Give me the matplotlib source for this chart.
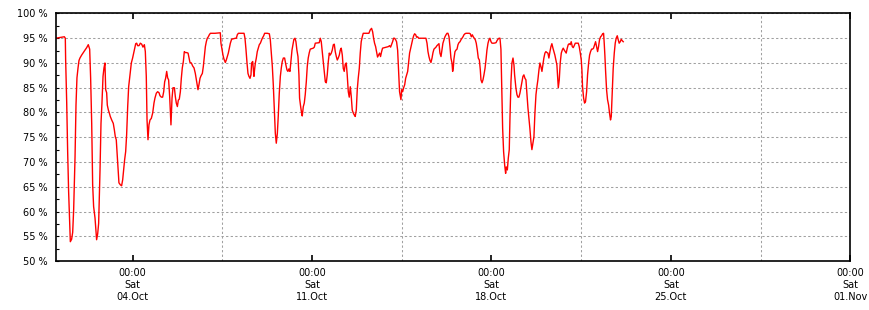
import matplotlib
matplotlib.use("Agg")
import matplotlib.pyplot as plt
import matplotlib.dates as mdates
from matplotlib.ticker import MultipleLocator, FuncFormatter, FixedLocator
import pandas as pd

# hours after 2025-10-01 00:00 and availability in percent
hours = [
    0, 8.2, 9.1, 9.4, 10.4, 11.3, 12.2, 13.2, 13.8, 15.0, 16.0, 16.9, 18.2, 19.1, 20.0,
    21.0, 21.9, 22.8, 24.4, 25.9, 27.5, 29.1, 30.6, 31.9, 32.8, 33.8, 34.7, 35.6, 36.9,
    37.8, 38.4, 39.4, 40.3, 41.6, 42.5, 43.4, 44.4, 45.3, 46.2, 46.9, 47.8, 48.4, 49.4,
    50.3, 51.2, 52.5, 54.0, 55.0, 55.9, 56.8, 58.1, 59.3, 60.6, 61.8, 62.8, 63.7, 64.6,
    65.6, 66.5, 67.5, 68.4, 69.6, 70.9, 72.1, 73.1, 74.0, 75.0, 75.9, 76.8, 78.1, 79.3,
    80.6, 81.8, 83.1, 84.0, 84.9, 85.6, 86.5, 87.4, 88.4, 89.6, 90.9, 92.1, 93.0, 94.3,
    95.5, 96.8, 97.7, 99.0, 100.2, 101.2, 102.1, 103.0, 104.0, 104.9, 105.8, 106.8,
    108.0, 109.0, 109.9, 111.2, 112.1, 113.0, 114.0, 114.9, 115.8, 116.8, 117.7, 118.6,
    119.6, 120.5, 121.5, 122.7, 124.0, 124.9, 125.8, 127.1, 128.3, 129.6, 130.8, 132.1,
    133.3, 134.2, 135.2, 136.1, 137.4, 138.3, 139.2, 140.2, 141.1, 142.0, 143.0, 143.9,
    144.9, 149.2, 153.3, 154.2, 154.8, 155.8, 156.7, 157.6, 158.9, 159.8, 160.8, 161.7,
    162.6, 163.6, 164.8, 168.3, 169.2, 170.1, 171.1, 176.4, 177.3, 178.2, 179.2, 180.1,
    181.0, 182.0, 182.9, 183.5, 184.5, 185.1, 185.7, 186.3, 187.0, 187.9, 188.8, 189.8,
    190.7, 191.7, 192.6, 193.5, 194.8, 195.7, 198.2, 200.1, 201.0, 202.0, 202.9, 203.8,
    204.8, 205.7, 206.6, 207.6, 208.5, 209.4, 210.4, 211.3, 212.2, 213.2, 214.4,
    215.6, 216.6, 217.5, 218.4, 219.4, 220.3, 221.3, 222.2, 223.1, 224.1, 225.0, 225.9,
    226.9, 227.8, 228.4, 229.4, 230.3, 230.9, 231.9, 232.8, 233.7, 234.7, 235.6, 236.5,
    237.5, 238.4, 241.2, 242.2, 243.1, 246.8, 247.8, 248.7, 249.6, 250.6, 251.5, 252.5,
    253.4, 254.3, 255.3, 256.2, 257.1, 258.1, 259.0, 260.0, 260.9, 261.8, 262.8, 263.7,
    264.6, 265.6, 266.5, 267.4, 268.4, 269.3, 270.2, 271.2, 272.1, 273.0, 274.0, 274.9,
    275.9, 276.8, 277.7, 278.7, 279.6, 280.5, 281.5, 282.4, 283.3, 284.3, 285.2, 286.1,
    287.1, 288.0, 293.3, 294.6, 295.8, 296.8, 297.7, 298.6, 299.6, 300.5, 301.4, 302.4,
    303.3, 304.2, 305.2, 306.1, 309.9, 311.4, 312.7, 313.6, 314.5, 315.5, 316.4, 317.3,
    318.3, 319.2, 320.2, 321.1, 322.0,
    323.3, 324.0, 324.9, 325.8, 326.8, 327.7, 328.6, 329.6, 330.5, 331.4, 332.4, 333.3,
    334.3, 335.2, 336.1, 337.1, 338.0, 338.9, 339.9, 346.7, 347.7, 348.6, 349.5, 350.5,
    351.4, 352.4, 353.3, 354.2, 355.2, 356.1, 357.0, 358.0, 358.9, 359.8, 360.8, 361.7,
    362.6, 363.6, 364.5, 365.5, 366.4, 367.3, 368.3, 369.2, 370.1, 371.1, 371.7, 372.3,
    372.9, 373.9, 374.8, 375.8, 376.7, 377.6, 378.6, 379.5, 380.4, 381.4, 382.3, 383.2,
    384.2, 387.3, 388.2, 389.2, 390.1, 391.0, 392.0, 392.9, 393.8, 394.8, 395.7, 396.7,
    397.6, 398.2, 399.2, 400.1, 401.0, 402.0, 402.9, 403.8, 404.8, 405.7, 406.6, 407.6,
    408.5, 410.4, 412.3, 413.2, 414.1, 415.1, 416.0, 416.9, 417.6, 418.5, 419.4, 420.4,
    421.3, 421.9, 422.9, 423.8, 424.7, 425.4, 426.3, 427.2, 428.2, 429.1, 429.7,
    430.9, 431.9, 432.8, 433.7, 434.7, 435.6, 436.6, 437.5, 438.4, 439.4, 440.3, 441.2,
    442.2, 443.1, 444.0, 445.0, 445.9, 446.8, 447.8, 448.7, 449.7, 450.6, 451.5, 452.5,
    453.4, 454.3, 455.3, 456.2, 457.1, 458.1, 459.0, 460.0, 460.9, 461.8, 462.8, 463.7,
    464.6, 465.6, 466.5, 467.4, 468.4, 469.3, 469.9, 470.6, 471.5, 472.4, 473.4, 474.3,
    475.2, 476.2, 477.1, 478.0, 479.0, 479.9, 480.9, 481.8, 482.7, 483.7, 484.6, 485.5,
    486.5, 489.3, 490.2, 491.2, 492.1, 492.7, 493.3, 494.3, 495.2, 496.1, 497.1, 498.0,
    499.0, 499.9, 500.8, 501.8, 502.7, 503.6, 504.6, 505.5, 506.4, 507.4, 508.3, 509.2,
    510.2, 511.1, 512.1, 513.0, 513.6, 514.2, 514.9, 515.8, 516.7, 517.7, 518.6, 519.5,
    520.2, 521.1, 522.0, 523.0, 523.9, 524.8, 525.8, 526.7, 527.6, 528.6, 529.5, 530.5,
    531.4,
]
values = [
    95.0, 95.3, 95.0, 90.7, 82, 72, 64, 57.6, 53.9, 54.4, 55.8, 60.3, 71, 81.5, 87,
    89, 90.5, 91, 91.6, 92.1, 92.6, 93.1, 93.7, 92.8, 87, 77.8, 65.4, 61, 58.7,
    56, 54.3, 55.5, 57.6, 68.5, 77.8, 81.9, 87.3, 89, 90, 84.6, 84, 81.5, 80.5,
    79.9, 79.2, 78.5, 77.8, 76.5, 75.1, 74.5, 70.1, 65.8, 65.4, 65.2, 66.4, 68.4, 70.4,
    72.1, 75.5, 81.2, 85.2, 87.6, 90, 91, 92, 93, 93.9, 94, 93.5, 93.5, 94,
    93.8, 93.2, 93.7, 92.3, 87.3, 78.5, 74.5, 77.5, 78.5, 78.8, 79.9, 81.9, 82.9, 83.9,
    84.2, 84, 83.4, 83.1, 83.1, 84.2, 86.2, 86.9, 88.3, 87, 86.6, 83.2,
    77.5, 82.9, 85, 85, 83.2, 81.9, 81.2, 82.5, 82.7, 84.2, 86.9, 89,
    90.3, 92.3, 92.1, 92.1, 92, 91, 90.1, 90, 89.4, 89, 87.9, 86.2,
    84.6, 85.6, 86.9, 87.4, 87.9, 89.3, 91.3, 93.3, 94.3, 95, 95.3, 95.7,
    96, 96, 96.1, 96.1, 94, 92.8, 91.6, 90.8, 90.1, 90.6, 91.3, 92,
    93, 94, 94.8, 95, 95, 95.7, 96, 96, 95, 92.8, 90, 87.9,
    87.3, 86.9, 87.6, 90, 90.3, 88.7, 87.3, 88.7, 90, 91, 92.3, 93,
    93.7, 94, 94.5, 95, 95.5, 96, 96, 95.9, 94.7, 92, 89.3, 85.6,
    80.5, 75.8, 73.8, 75.8, 79.5, 83.9, 87.3, 89, 90.3, 91, 91,
    89.6, 88.6, 88.3, 88.8, 88.3, 90.3, 92.6, 93.7, 94.8, 95, 94.3, 92.6,
    91.3, 87.6, 82.9, 81.2, 79.9, 79.3, 81.2, 81.9, 83.6, 86.2, 89.3, 91,
    92.1, 92.8, 93, 93.2, 94, 94.1, 95, 94.3, 92.3, 90.3, 88.3, 86.2,
    86, 87.6, 90.3, 92, 91.6, 92, 92.6, 93.7, 93.8, 92.3, 91.3, 90.6,
    91, 91.6, 92.6, 93, 91.6, 88.9, 88.3, 89.8, 90, 87.6, 84.2, 83.1,
    85.2, 83.2, 80.5, 79.9, 79.5, 79.2, 80.5, 84.6, 86.9, 88.9, 92, 94.3,
    95.3, 96, 96, 96.7, 97, 96.3, 95, 94, 93.3, 92.3, 91.2, 91.6,
    92, 91.3, 92.3, 93, 93.2, 93.3, 93.5, 93.2, 93.7, 94.3, 95, 95,
    94.7, 94.3, 92.6, 88.3, 84.2,
    82.6, 84.6, 84.2, 85, 85.6, 86.9, 87.6, 88.3, 90.1, 92, 93, 94,
    94.8, 95.5, 95.9, 95.7, 95.2, 95.3, 95, 95, 94, 92.3, 91.3, 90.5,
    90.1, 91, 92.1, 92.8, 93, 93.2, 93.5, 93.7, 93.9, 92, 91.3, 92.6,
    94, 94.7, 95.3, 95.7, 96, 96, 95.3, 93.3, 91, 90, 88.3, 89,
    90.8, 92.3, 92.6, 92.8, 93.7, 94.1, 94.3, 94.7, 95, 95.3, 95.7, 95.9,
    96, 96, 95.9, 95.3, 95.7, 95.3, 95, 94.7, 94, 92.6, 91, 90.6,
    88.6, 86.6, 86, 86.6, 87.6, 88.9, 90.6, 92.6, 94, 94.7, 95, 94.3,
    94, 94, 94.1, 94.5, 94.8, 95, 95, 92.8, 85.6, 76.8, 72.1, 69.4,
    67.7, 69, 68.4, 70.8, 72.5, 79.2, 86.2, 90, 91, 89.6, 87.6,
    85, 83.6, 83.1, 83.1, 83.9, 85, 86.2, 87.3, 87.6, 86.9, 86.6, 83.9,
    80.9, 78.8, 76.8, 74.1, 72.5, 73.8, 75.1, 79.8, 83.6, 85.2, 86.6, 88.6,
    90, 89.3, 88.3, 89.6, 91, 92, 92.3, 92.1, 92, 91, 92.3, 93.3,
    93.9, 93, 92.3, 91.6, 90.6, 89.6, 87.6, 85, 86.6, 90, 92, 92.6,
    93, 92.6, 92.3, 92, 93, 93.7, 93.9, 93.7, 94.3, 93.3, 93.1, 93.5,
    94, 94, 93.3, 92, 90.6, 88.6, 85.2, 82.9, 81.9, 82.2, 84.2, 87.6,
    90, 91.6, 92.3, 92.8, 92.8, 93, 93.7, 94.3, 93.3, 92.3, 93.3, 94.7,
    95.3, 95.5, 95.9, 96, 94, 91.6, 88.3, 84.6, 82.6, 81.5, 79.8, 78.5,
    79.2, 84.2, 88.9, 92, 94, 95, 95.5, 94.7, 94, 94.3, 94.8, 94.5,
    94.3,
]

start = pd.Timestamp("2025-10-01")
end = pd.Timestamp("2025-11-01")
times = start + pd.to_timedelta(hours, unit="h")

plt.rcParams["font.family"] = ["DejaVu Sans"]

fig = plt.figure(figsize=(8.7, 3.1), dpi=100)
ax = fig.add_axes([0.0639, 0.158, 0.9135, 0.7985])

ax.plot(times, values, color="#ff0000", linewidth=1.0)

ax.set_xlim(start, end)
ax.set_ylim(50, 100)

# labelled ticks every Saturday, grid every 3.5 days
week_days = [start + pd.Timedelta(days=3 + 7 * i) for i in range(4)] + [end]
grid_days = [start + pd.Timedelta(hours=72 + 84 * i) for i in range(9)]
ax.xaxis.set_major_locator(FixedLocator(mdates.date2num(week_days)))
ax.xaxis.set_major_formatter(mdates.DateFormatter("%H:%M\n%a\n%d.%b"))
ax.xaxis.set_minor_locator(FixedLocator(mdates.date2num(grid_days)))

ax.yaxis.set_major_locator(MultipleLocator(5))
ax.yaxis.set_minor_locator(MultipleLocator(2.5))
ax.yaxis.set_major_formatter(FuncFormatter(lambda v, p: f"{int(v)} %"))

grid_style = dict(color="#a0a0a0", linestyle=(0, (2.2, 2.2)), linewidth=0.75)
ax.grid(True, which="minor", axis="x", **grid_style)
ax.grid(True, which="major", axis="y", **grid_style)

ax.tick_params(axis="x", which="major", direction="in", length=4.5, width=1.2,
               top=True, labelsize=7, pad=5)
ax.tick_params(axis="x", which="minor", length=0)
ax.tick_params(axis="y", which="both", direction="in", length=2.5, width=0.8,
               labelsize=7, pad=5.5)
for lab in ax.get_xticklabels():
    lab.set_horizontalalignment("center")
    lab.set_linespacing(1.25)

for sp in ax.spines.values():
    sp.set_linewidth(1.2)
    sp.set_color("black")

fig.savefig("out.png", dpi=100)
